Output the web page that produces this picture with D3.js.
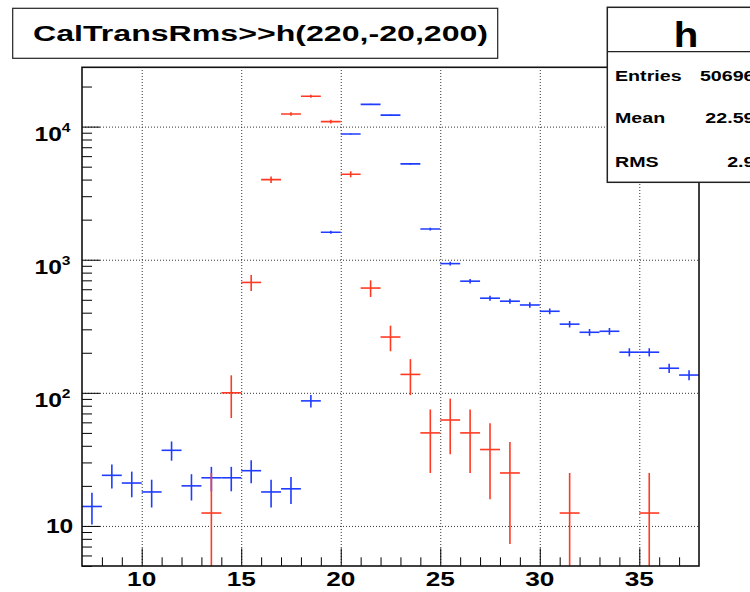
<!DOCTYPE html>
<html>
<head>
<meta charset="utf-8">
<script src="https://cdn.jsdelivr.net/npm/d3@7"></script>
<style>
  html, body { margin: 0; padding: 0; background: #fff; overflow: hidden; }
  svg { display: block; }
  text { font-family: "Liberation Sans", Arial, Helvetica, sans-serif; font-weight: bold; fill: #000; }
</style>
</head>
<body>
<svg id="chart" width="750" height="592"></svg>
<script>
// ---------- data ----------
const binLowEdges = [7,8,9,10,11,12,13,14,15,16,17,18,19,20,21,22,23,24,25,26,27,28,29,30,31,32,33,34,35,36,37];
const blueValues  = [14,24,21,18,37,20,23,23,26,18,19,87,1610,8800,14700,12200,5250,1700,935,690,514,488,457,410,328,285,290,202,202,153,136];
const redValues   = [0,0,0,0,0,0,12.5,100,675,4000,12450,16900,10900,4390,612.5,262.5,137.5,50,62.5,50,37.5,25,0,0,12.5,0,0,0,12.5,0,0];
const redWeight   = 12.5;            // each red entry weighs 12.5
const xTickMajor  = [10,15,20,25,30,35];
const xTickLabels = ["10","15","20","25","30","35"];
const yTickMajor  = [10,100,1000,10000];
const yTickExp    = ["", "2", "3", "4"];
const titleText   = "CalTransRms>>h(220,-20,200)";
const statsName   = "h";
const statsLabels = ["Entries","Mean","RMS"];
const statsValues = ["50696","22.59","2.9"];

// ---------- layout ----------
const svg = d3.select("#chart");
const L = 82, R = 699, T = 67.3, B = 566;
const x = d3.scaleLinear().domain([7, 38]).range([L, R]);
const y = d3.scaleLog().domain([5, 27900]).range([B, T]);

const blue = "#1f3cff", red = "#ff3a22";

svg.append("defs").append("clipPath").attr("id", "plotclip")
  .append("rect").attr("x", L).attr("y", T).attr("width", R - L).attr("height", B - T);

// grid (dotted)
const grid = svg.append("g");
grid.append("g").attr("transform", `translate(0,${B})`)
  .call(d3.axisBottom(x).tickValues(xTickMajor).tickSize(-(B - T)).tickFormat(""))
  .call(g => g.select(".domain").remove())
  .call(g => g.selectAll("line").attr("stroke", "#333").attr("stroke-dasharray", "1,2"));
grid.append("g").attr("transform", `translate(${L},0)`)
  .call(d3.axisLeft(y).tickValues(yTickMajor).tickSize(-(R - L)).tickFormat(""))
  .call(g => g.select(".domain").remove())
  .call(g => g.selectAll("line").attr("stroke", "#333").attr("stroke-dasharray", "1,2"));

// ticks: x major / minor (pointing up)
const xMinor = d3.range(8, 38).filter(v => !xTickMajor.includes(v));
svg.append("g").attr("transform", `translate(0,${B})`)
  .call(d3.axisBottom(x).tickValues(xTickMajor).tickSize(-17.7).tickFormat(""))
  .call(g => g.select(".domain").remove())
  .call(g => g.selectAll("line").attr("stroke", "#000"));
svg.append("g").attr("transform", `translate(0,${B})`)
  .call(d3.axisBottom(x).tickValues(xMinor).tickSize(-8.7).tickFormat(""))
  .call(g => g.select(".domain").remove())
  .call(g => g.selectAll("line").attr("stroke", "#000"));

// ticks: y major / minor (pointing right)
const yMinor = [];
[1, 10, 100, 1000, 10000].forEach(d => { for (let k = 2; k <= 9; k++) { const v = d * k; if (v >= 5 && v <= 27900) yMinor.push(v); } });
svg.append("g").attr("transform", `translate(${L},0)`)
  .call(d3.axisLeft(y).tickValues(yTickMajor).tickSize(-18).tickFormat(""))
  .call(g => g.select(".domain").remove())
  .call(g => g.selectAll("line").attr("stroke", "#000"));
svg.append("g").attr("transform", `translate(${L},0)`)
  .call(d3.axisLeft(y).tickValues(yMinor).tickSize(-10).tickFormat(""))
  .call(g => g.select(".domain").remove())
  .call(g => g.selectAll("line").attr("stroke", "#000"));

// histograms with error bars
function drawHist(values, errFn, color) {
  const g = svg.append("g").attr("clip-path", "url(#plotclip)")
    .attr("stroke", color).attr("stroke-width", 1.6).attr("fill", "none");
  binLowEdges.forEach((lo, i) => {
    const v = values[i];
    if (!v) return;
    const e = errFn(v);
    const cx = x(lo + 0.5);
    const lowV = v - e > 0 ? v - e : 1e-3;
    g.append("line").attr("x1", x(lo)).attr("x2", x(lo + 1)).attr("y1", y(v)).attr("y2", y(v));
    g.append("line").attr("x1", cx).attr("x2", cx).attr("y1", y(v + e)).attr("y2", Math.min(y(lowV), B + 5));
  });
}
drawHist(blueValues, v => Math.sqrt(v), blue);
drawHist(redValues, v => Math.sqrt(v * redWeight), red);

// frame
svg.append("rect").attr("x", L).attr("y", T).attr("width", R - L).attr("height", B - T)
  .attr("fill", "none").attr("stroke", "#111").attr("stroke-width", 1.6);

// x labels
xTickMajor.forEach((v, i) => {
  svg.append("text")
    .attr("transform", `translate(${x(v)},586) scale(1.28,1)`)
    .attr("text-anchor", "middle").attr("font-size", 20.5)
    .text(xTickLabels[i]);
});

// y labels
yTickMajor.forEach((v, i) => {
  const t = svg.append("text").attr("text-anchor", "end").attr("font-size", 20.5);
  if (yTickExp[i] === "") {
    t.attr("transform", `translate(73.3,${y(v) + 7.5}) scale(1.2,1)`).text("10");
  } else {
    t.attr("transform", `translate(70.5,${y(v) + 14}) scale(1.2,1)`);
    t.append("tspan").text("10");
    t.append("tspan").attr("font-size", 13).attr("dy", -9).text(yTickExp[i]);
  }
});

// title box
svg.append("rect").attr("x", 12.7).attr("y", 8.3).attr("width", 485).attr("height", 50)
  .attr("fill", "#fff").attr("stroke", "#222").attr("stroke-width", 1.2);
svg.append("text").attr("transform", "translate(33,40.5) scale(1.46,1)")
  .attr("font-size", 22).text(titleText);

// stats box
svg.append("rect").attr("x", 607.3).attr("y", 7.3).attr("width", 160).attr("height", 175)
  .attr("fill", "#fff").attr("stroke", "#222").attr("stroke-width", 1.5);
svg.append("line").attr("x1", 607.3).attr("x2", 767).attr("y1", 51.7).attr("y2", 51.7)
  .attr("stroke", "#222").attr("stroke-width", 1.3);
svg.append("text").attr("transform", "translate(686,46.7) scale(1.15,1)")
  .attr("text-anchor", "middle").attr("font-size", 35).text(statsName);
const statY = [80.7, 123.3, 166.7];
statsLabels.forEach((lab, i) => {
  svg.append("text").attr("transform", `translate(615,${statY[i]}) scale(1.31,1)`)
    .attr("font-size", 15).text(lab);
  svg.append("text").attr("transform", `translate(754.5,${statY[i]}) scale(1.31,1)`)
    .attr("text-anchor", "end").attr("font-size", 15).text(statsValues[i]);
});
</script>
</body>
</html>
